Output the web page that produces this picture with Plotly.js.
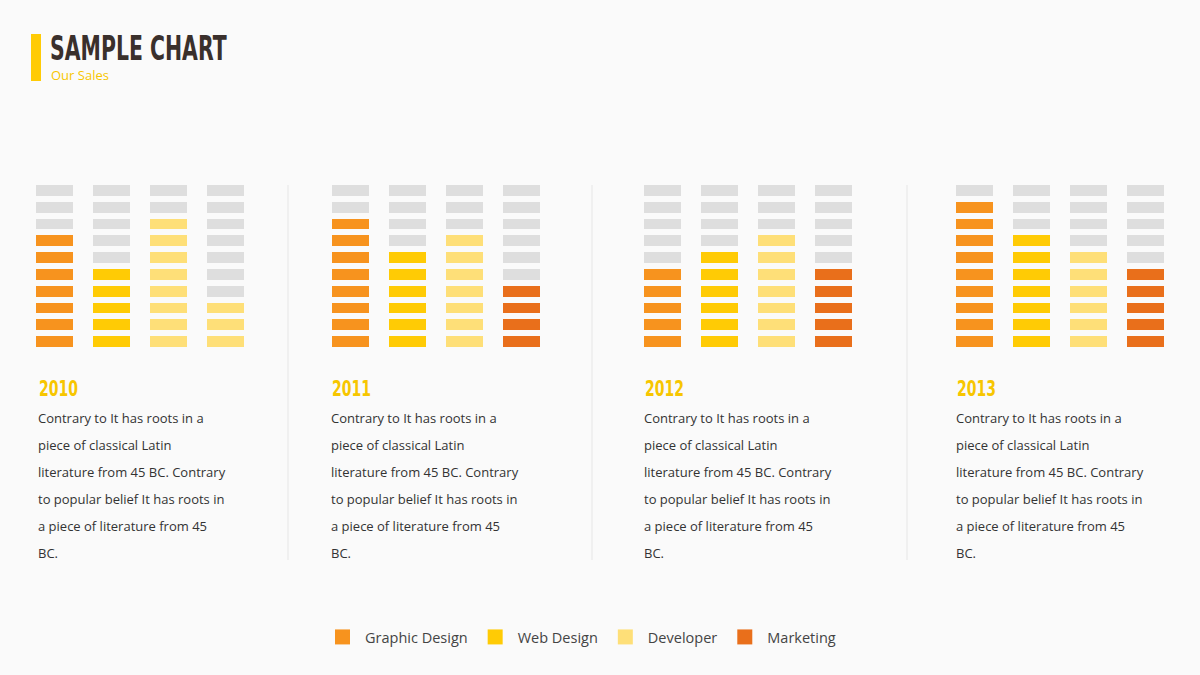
<!DOCTYPE html>
<html><head><meta charset="utf-8">
<script src="https://cdn.plot.ly/plotly-3.0.1.min.js"></script>
<style>html,body{margin:0;padding:0;background:#FAFAFA;}#chart{width:1200px;height:675px;}</style>
</head><body><div id="chart"></div>
<script>
// ---- data ----
const years = ["2010", "2011", "2012", "2013"];
const seriesNames = ["Graphic Design", "Web Design", "Developer", "Marketing"];
const graphicDesign = [7, 8, 5, 9];
const webDesign = [5, 6, 6, 7];
const developer = [8, 7, 7, 6];
const marketing = [3, 4, 5, 5];
const blocksPerColumn = 10;
const bodyLines = [
  "Contrary to It has roots in a",
  "piece of classical Latin",
  "literature from 45 BC. Contrary",
  "to popular belief It has roots in",
  "a piece of literature from 45",
  "BC."
];

// ---- style ----
const bg = "#FAFAFA";
const grey = "#DEDEDE";
const seriesColors = ["#F7931E", "#FFCB05", "#FEDF78", "#E96F1B"];
// colour index used per column in each year panel (2010 marketing drawn in developer tone)
const panelColorIdx = [[0,1,2,2],[0,1,2,3],[0,1,2,3],[0,1,2,3]];
const panelLeft = [26, 322, 634, 946];
const panelWidth = 228;
const gridTop = 182, gridBottom = 350;
const textX = [38, 331, 644, 956];
const dividerX = [288, 592, 907];
const W = 1200, H = 675;
const px = v => v / W, py = v => 1 - v / H;
const condensedFont = "DejaVu Sans, sans-serif";

const allValues = [graphicDesign, webDesign, developer, marketing];
const traces = [];
const layout = {
  width: W, height: H,
  margin: {l: 0, r: 0, t: 0, b: 0},
  paper_bgcolor: bg, plot_bgcolor: bg,
  showlegend: true,
  legend: {
    orientation: "h", x: px(320), xanchor: "left", y: py(637), yanchor: "middle",
    itemwidth: 35,
    font: {family: "Open Sans, Noto Sans, sans-serif", size: 14.5, color: "#444"},
    bgcolor: "rgba(0,0,0,0)", itemclick: false, itemdoubleclick: false
  },
  annotations: [], shapes: []
};
const squeeze = []; // [annotation index, target width px]

const cs = [[0, grey], [0.25, seriesColors[0]], [0.5, seriesColors[1]], [0.75, seriesColors[2]], [1, seriesColors[3]]];

years.forEach((yr, p) => {
  const xa = p === 0 ? "x" : "x" + (p + 1);
  const ya = p === 0 ? "y" : "y" + (p + 1);
  const z = [];
  for (let r = 0; r < blocksPerColumn; r++) {
    const row = [];
    for (let c = 0; c < 4; c++) {
      const n = allValues[c][p];
      row.push(r < n ? panelColorIdx[p][c] + 1 : 0);
    }
    z.push(row);
  }
  const custom = z.map(row => row.map((v, c) => seriesNames[c] + ": " + allValues[c][p]));
  traces.push({
    type: "heatmap", x: [0,1,2,3], y: [...Array(blocksPerColumn).keys()], z: z,
    xaxis: xa, yaxis: ya, colorscale: cs, zmin: 0, zmax: 4, showscale: false,
    xgap: 20, ygap: 6, text: custom, hoverinfo: "text", showlegend: false
  });
  const axKey = p === 0 ? "" : String(p + 1);
  layout["xaxis" + axKey] = {domain: [px(panelLeft[p]), px(panelLeft[p] + panelWidth)], range: [-0.5, 3.5],
    visible: false, fixedrange: true, anchor: ya};
  layout["yaxis" + axKey] = {domain: [py(gridBottom), py(gridTop)], range: [-0.5, blocksPerColumn - 0.5],
    visible: false, fixedrange: true, anchor: xa};

  squeeze.push([layout.annotations.length, 39]);
  layout.annotations.push({xref: "paper", yref: "paper", x: px(textX[p] - 1), y: py(389), xanchor: "left", yanchor: "middle",
    text: "<b>" + yr + "</b>", showarrow: false,
    font: {family: condensedFont, size: 21, color: "#F7C600"}});
  bodyLines.forEach((ln, i) => {
    layout.annotations.push({xref: "paper", yref: "paper", x: px(textX[p] - 2), y: py(418 + i * 27), xanchor: "left", yanchor: "middle",
      text: ln, showarrow: false, font: {family: "Open Sans, Noto Sans, sans-serif", size: 13, color: "#333"}});
  });
});

dividerX.forEach(x => layout.shapes.push({type: "line", xref: "paper", yref: "paper",
  x0: px(x), x1: px(x), y0: py(185), y1: py(560), line: {color: "#E6E6E6", width: 1}}));

// header
layout.shapes.push({type: "rect", xref: "paper", yref: "paper", x0: px(31), x1: px(41), y0: py(81), y1: py(34),
  fillcolor: "#FFCB05", line: {width: 0}});
squeeze.push([layout.annotations.length, 177]);
layout.annotations.push({xref: "paper", yref: "paper", x: px(48), y: py(48), xanchor: "left", yanchor: "middle",
  text: "<b>SAMPLE CHART</b>", showarrow: false,
  font: {family: condensedFont, size: 33, color: "#3A302C"}});
layout.annotations.push({xref: "paper", yref: "paper", x: px(49), y: py(75), xanchor: "left", yanchor: "middle",
  text: "Our Sales", showarrow: false, font: {family: "Open Sans, Noto Sans, sans-serif", size: 13, color: "#F7C600"}});

// legend entries
seriesNames.forEach((nm, i) => traces.push({
  type: "scatter", mode: "markers", x: [null], y: [null], name: nm, showlegend: true,
  marker: {symbol: "square", size: 15, color: seriesColors[i]}, hoverinfo: "skip"
}));

Plotly.newPlot("chart", traces, layout, {displayModeBar: false, staticPlot: true}).then(gd => {
  // horizontally condense the heavy display texts (title, years) to mimic a condensed face
  squeeze.forEach(([idx, target]) => {
    const g = gd.querySelector('.annotation[data-index="' + idx + '"]');
    if (!g) return;
    const t = g.querySelector('text');
    const bb = t.getBBox();
    const sx = target / bb.width;
    const prev = t.getAttribute('transform') || '';
    t.setAttribute('transform', 'translate(' + (bb.x * (1 - sx)) + ',0) scale(' + sx + ',1) ' + prev);
  });
});
</script></body></html>
